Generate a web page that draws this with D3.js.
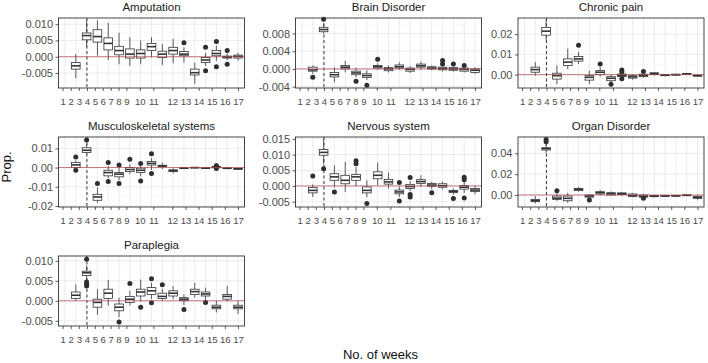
<!DOCTYPE html>
<html>
<head>
<meta charset="utf-8">
<script src="https://cdn.jsdelivr.net/npm/d3@7"></script>
<style>
  body { margin: 0; background: #fff; }
  svg { display: block; font-family: "Liberation Sans", Arial, sans-serif; }
</style>
</head>
<body>
<div id="chart"></div>
<script>
// week slots on the x axis (box positions) and their labels
const slots = d3.range(1, 18);
const weekLabels = d3.range(1, 18);
const markerWeek = 4;

// box stats per slot: [lowWhisker, q1, median, q3, highWhisker, outliers]
const amputation = [null,
  [-0.0066, -0.0038, -0.0028, -0.0018, 0.0008, []],
  [0.0030, 0.0052, 0.0065, 0.0073, 0.0112, []],
  [0.0003, 0.0045, 0.0062, 0.0083, 0.0112, []],
  [-0.0010, 0.0021, 0.0041, 0.0058, 0.0104, []],
  [-0.0023, 0.0006, 0.0019, 0.0032, 0.0074, []],
  [-0.0028, -0.0004, 0.0008, 0.0024, 0.0060, []],
  [-0.0023, -0.0004, 0.0010, 0.0021, 0.0050, []],
  [-0.0002, 0.0019, 0.0031, 0.0041, 0.0060, []],
  [-0.0025, -0.0002, 0.0008, 0.0017, 0.0039, []],
  [-0.0020, 0.0008, 0.0019, 0.0029, 0.0055, []],
  [-0.0018, 0.0003, 0.0008, 0.0016, 0.0029, [0.0043]],
  [-0.0083, -0.0056, -0.0049, -0.0038, -0.0018, []],
  [-0.0028, -0.0018, -0.0010, -0.0002, 0.0012, [0.0029, -0.0043]],
  [-0.0013, 0.0003, 0.0010, 0.0019, 0.0034, [0.0047, -0.0031]],
  [-0.0010, -0.0004, -0.0001, 0.0002, 0.0010, [0.0019, -0.0023]],
  [-0.0012, -0.0004, 0.0001, 0.0005, 0.0012, []]
];
const brainDisorder = [null,
  [-0.0011, -0.0005, -0.0002, 0.0004, 0.0008, [-0.0019]],
  [0.0080, 0.0084, 0.0089, 0.0094, 0.0103, [0.0112]],
  [-0.0030, -0.0018, -0.0013, -0.0008, 0.0004, []],
  [-0.0008, 0.0000, 0.0004, 0.0008, 0.0018, []],
  [-0.0019, -0.0013, -0.0009, -0.0005, 0.0003, [-0.0028]],
  [-0.0025, -0.0019, -0.0015, -0.0011, -0.0003, [-0.0037]],
  [-0.0002, 0.0002, 0.0005, 0.0008, 0.0013, [0.0022]],
  [-0.0008, -0.0004, 0.0000, 0.0003, 0.0008, []],
  [-0.0002, 0.0002, 0.0005, 0.0009, 0.0015, []],
  [-0.0009, -0.0005, -0.0001, 0.0002, 0.0006, []],
  [-0.0002, 0.0004, 0.0007, 0.0011, 0.0017, []],
  [-0.0003, 0.0000, 0.0002, 0.0005, 0.0008, []],
  [-0.0006, -0.0002, 0.0001, 0.0004, 0.0006, [0.0019, 0.0011]],
  [-0.0006, -0.0003, 0.0000, 0.0003, 0.0006, [0.0011]],
  [-0.0008, -0.0005, -0.0001, 0.0002, 0.0005, [0.0008]],
  [-0.0011, -0.0008, -0.0003, 0.0000, 0.0004, []]
];
const chronicPain = [null,
  [-0.0005, 0.0012, 0.0025, 0.0037, 0.0062, []],
  [0.0170, 0.0195, 0.0215, 0.0233, 0.0270, []],
  [-0.0047, -0.0022, -0.0005, 0.0007, 0.0045, []],
  [0.0028, 0.0045, 0.0062, 0.0078, 0.0128, []],
  [0.0053, 0.0067, 0.0078, 0.0090, 0.0112, [0.0145]],
  [-0.0047, -0.0027, -0.0013, -0.0005, 0.0020, []],
  [-0.0010, 0.0000, 0.0012, 0.0020, 0.0037, [0.0053]],
  [-0.0038, -0.0030, -0.0018, -0.0010, 0.0000, [-0.0047]],
  [-0.0015, -0.0010, -0.0004, 0.0003, 0.0008, [0.0023, 0.0013, -0.0020]],
  [-0.0025, -0.0017, -0.0011, -0.0005, 0.0002, []],
  [-0.0015, -0.0010, -0.0004, 0.0002, 0.0007, [0.0015]],
  [-0.0004, 0.0000, 0.0005, 0.0009, 0.0013, []],
  [-0.0008, -0.0005, -0.0003, 0.0000, 0.0003, []],
  [-0.0004, -0.0002, 0.0000, 0.0002, 0.0004, []],
  [-0.0001, 0.0002, 0.0004, 0.0006, 0.0009, []],
  [-0.0010, -0.0007, -0.0005, -0.0003, 0.0000, []]
];
const musculoskeletal = [null,
  [-0.0009, 0.0000, 0.0014, 0.0026, 0.0038, [0.0055, -0.0014]],
  [0.0069, 0.0078, 0.0090, 0.0103, 0.0124, [0.0144]],
  [-0.0183, -0.0170, -0.0153, -0.0139, -0.0104, [-0.0083]],
  [-0.0055, -0.0043, -0.0026, -0.0014, 0.0009, [0.0026, -0.0073]],
  [-0.0066, -0.0048, -0.0034, -0.0026, -0.0003, [0.0014, -0.0083]],
  [-0.0034, -0.0021, -0.0010, 0.0000, 0.0017, [0.0043]],
  [-0.0045, -0.0026, -0.0014, -0.0003, 0.0008, [0.0021, -0.0070]],
  [-0.0012, 0.0013, 0.0022, 0.0032, 0.0048, [0.0072, -0.0031]],
  [-0.0008, 0.0006, 0.0009, 0.0012, 0.0026, []],
  [-0.0030, -0.0020, -0.0016, -0.0012, -0.0004, []],
  [-0.0008, -0.0005, -0.0003, -0.0001, 0.0002, []],
  [-0.0004, -0.0002, 0.0000, 0.0001, 0.0003, []],
  [-0.0007, -0.0005, -0.0003, -0.0001, 0.0002, []],
  [-0.0003, -0.0001, 0.0003, 0.0005, 0.0007, [0.0010, 0.0008, -0.0005]],
  [-0.0007, -0.0005, -0.0004, -0.0002, 0.0000, []],
  [-0.0010, -0.0008, -0.0007, -0.0005, -0.0003, []]
];
const nervousSystem = [null,
  [-0.0035, -0.0022, -0.0014, -0.0005, 0.0005, [0.0032]],
  [0.0070, 0.0098, 0.0107, 0.0116, 0.0149, [0.0055]],
  [-0.0005, 0.0018, 0.0029, 0.0039, 0.0066, [-0.0019]],
  [-0.0019, 0.0007, 0.0018, 0.0034, 0.0077, []],
  [-0.0001, 0.0018, 0.0029, 0.0037, 0.0060, [0.0080, 0.0071]],
  [-0.0036, -0.0022, -0.0014, -0.0003, 0.0018, [-0.0056]],
  [0.0002, 0.0023, 0.0034, 0.0045, 0.0074, []],
  [-0.0008, 0.0006, 0.0013, 0.0021, 0.0043, []],
  [-0.0035, -0.0025, -0.0019, -0.0013, -0.0002, [0.0011, -0.0048]],
  [-0.0016, -0.0008, -0.0002, 0.0005, 0.0015, [0.0027, -0.0027, -0.0035]],
  [-0.0003, 0.0008, 0.0014, 0.0020, 0.0034, []],
  [-0.0011, -0.0001, 0.0003, 0.0008, 0.0013, [-0.0022]],
  [-0.0011, -0.0004, 0.0001, 0.0007, 0.0014, []],
  [-0.0028, -0.0021, -0.0017, -0.0014, -0.0008, [-0.0040]],
  [-0.0022, -0.0010, -0.0004, 0.0001, 0.0012, [0.0028, 0.0020, -0.0038]],
  [-0.0026, -0.0018, -0.0013, -0.0008, 0.0001, []]
];
const organDisorder = [null,
  [-0.0080, -0.0064, -0.0055, -0.0042, -0.0010, []],
  [0.0405, 0.0432, 0.0445, 0.0454, 0.0490, [0.0534, 0.0512]],
  [-0.0055, -0.0042, -0.0030, -0.0010, 0.0016, [0.0042]],
  [-0.0074, -0.0055, -0.0032, -0.0010, 0.0020, []],
  [0.0032, 0.0042, 0.0055, 0.0064, 0.0078, []],
  [-0.0028, -0.0020, -0.0010, 0.0000, 0.0008, [-0.0048]],
  [-0.0003, 0.0010, 0.0022, 0.0032, 0.0048, []],
  [-0.0008, 0.0000, 0.0013, 0.0022, 0.0035, []],
  [-0.0004, 0.0004, 0.0013, 0.0020, 0.0028, []],
  [-0.0022, -0.0014, -0.0005, 0.0010, 0.0020, []],
  [-0.0026, -0.0020, -0.0012, 0.0000, 0.0010, [-0.0032]],
  [-0.0022, -0.0016, -0.0011, -0.0006, 0.0000, []],
  [-0.0016, -0.0012, -0.0009, -0.0006, -0.0003, []],
  [-0.0014, -0.0010, -0.0008, -0.0005, -0.0002, []],
  [-0.0010, -0.0006, -0.0003, 0.0000, 0.0004, []],
  [-0.0045, -0.0032, -0.0022, -0.0012, -0.0002, []]
];
const paraplegia = [null,
  [0.0000, 0.0006, 0.0014, 0.0022, 0.0041, []],
  [0.0052, 0.0063, 0.0070, 0.0074, 0.0088, [0.0104, 0.0047, 0.0041, 0.0037]],
  [-0.0035, -0.0016, -0.0004, 0.0004, 0.0029, []],
  [-0.0012, 0.0006, 0.0019, 0.0029, 0.0052, []],
  [-0.0041, -0.0025, -0.0016, -0.0008, 0.0008, [-0.0053]],
  [-0.0012, -0.0004, 0.0004, 0.0011, 0.0025, [0.0043]],
  [-0.0002, 0.0012, 0.0022, 0.0029, 0.0053, [-0.0016]],
  [0.0004, 0.0016, 0.0025, 0.0033, 0.0045, [0.0055, -0.0005]],
  [0.0000, 0.0006, 0.0011, 0.0019, 0.0030, [0.0040]],
  [0.0004, 0.0012, 0.0019, 0.0025, 0.0037, []],
  [-0.0011, 0.0000, 0.0004, 0.0008, 0.0016, [-0.0022]],
  [0.0008, 0.0016, 0.0023, 0.0029, 0.0045, []],
  [0.0001, 0.0012, 0.0017, 0.0022, 0.0033, [-0.0004]],
  [-0.0029, -0.0020, -0.0016, -0.0011, 0.0000, []],
  [-0.0002, 0.0004, 0.0011, 0.0016, 0.0037, []],
  [-0.0033, -0.0020, -0.0016, -0.0011, 0.0000, []]
];

const panelTitles = ['Amputation', 'Brain Disorder', 'Chronic pain',
  'Musculoskeletal systems', 'Nervous system', 'Organ Disorder', 'Paraplegia'];
const panelData = [amputation, brainDisorder, chronicPain,
  musculoskeletal, nervousSystem, organDisorder, paraplegia];
const yDomains = [[-0.0096, 0.0119], [-0.0043, 0.0115], [-0.0066, 0.028],
  [-0.0205, 0.0159], [-0.0067, 0.0156], [-0.0115, 0.0557], [-0.0063, 0.0112]];
const yTicks = [[-0.005, 0, 0.005, 0.01], [-0.004, 0, 0.004, 0.008], [0, 0.01, 0.02],
  [-0.02, -0.01, 0, 0.01], [-0.005, 0, 0.005, 0.01, 0.015], [0, 0.02, 0.04],
  [-0.005, 0, 0.005, 0.01]];
const yFormats = ['.3f', '.3f', '.2f', '.2f', '.3f', '.2f', '.3f'];

// --- layout ---
const width = 708, height = 363;
const colX = [58.5, 295.5, 518];
const rowY = [18, 137, 256];
const pw = 186, ph = 70;
// week labels sit where the source put them (not evenly spaced)
const labelKnots = [1, 4, 9, 10, 11, 12, 17];
const labelFrac = [0.022, 0.153, 0.365, 0.437, 0.51, 0.612, 0.965];

const svg = d3.select('#chart').append('svg')
  .attr('width', width).attr('height', height);

panelData.forEach((rows, i) => {
  const x0 = colX[i % 3], y0 = rowY[Math.floor(i / 3)];
  const g = svg.append('g').attr('transform', `translate(${x0},${y0})`);
  const y = d3.scaleLinear().domain(yDomains[i]).range([ph, 0]);
  const xBox = d3.scalePoint().domain(slots).range([0, pw]).padding(0.6);
  const xLab = d3.scaleLinear().domain(labelKnots).range(labelFrac.map(f => f * pw));
  const bw = xBox.step() * 0.8;
  const fmt = d3.format(yFormats[i]);

  // grid
  const major = yTicks[i];
  const stepT = major[1] - major[0];
  const minor = d3.range(major[0] - stepT / 2, yDomains[i][1], stepT)
    .filter(v => v > yDomains[i][0] && v < yDomains[i][1]);
  g.append('g').selectAll('line').data(minor).join('line')
    .attr('x1', 0).attr('x2', pw).attr('y1', d => y(d)).attr('y2', d => y(d))
    .attr('stroke', '#f2f2f2').attr('stroke-width', 0.5);
  g.append('g').selectAll('line').data(major).join('line')
    .attr('x1', 0).attr('x2', pw).attr('y1', d => y(d)).attr('y2', d => y(d))
    .attr('stroke', '#e6e6e6').attr('stroke-width', 0.8);
  g.append('g').selectAll('line').data(slots).join('line')
    .attr('x1', d => xBox(d)).attr('x2', d => xBox(d)).attr('y1', 0).attr('y2', ph)
    .attr('stroke', '#e6e6e6').attr('stroke-width', 0.8);

  // dashed marker line
  g.append('line')
    .attr('x1', xLab(markerWeek)).attr('x2', xLab(markerWeek))
    .attr('y1', 0).attr('y2', ph)
    .attr('stroke', '#222').attr('stroke-width', 0.9)
    .attr('stroke-dasharray', '3,2.5');

  // boxes
  const boxes = g.append('g').selectAll('g')
    .data(rows.map((r, k) => ({ slot: slots[k], r })).filter(d => d.r))
    .join('g')
    .attr('transform', d => `translate(${xBox(d.slot)},0)`);
  boxes.append('line')
    .attr('y1', d => y(d.r[0])).attr('y2', d => y(d.r[1]))
    .attr('stroke', '#333').attr('stroke-width', 0.8);
  boxes.append('line')
    .attr('y1', d => y(d.r[3])).attr('y2', d => y(d.r[4]))
    .attr('stroke', '#333').attr('stroke-width', 0.8);
  boxes.append('rect')
    .attr('x', -bw / 2).attr('width', bw)
    .attr('y', d => y(d.r[3])).attr('height', d => Math.max(0.5, y(d.r[1]) - y(d.r[3])))
    .attr('fill', '#fff').attr('stroke', '#333').attr('stroke-width', 0.8);
  boxes.append('line')
    .attr('x1', -bw / 2).attr('x2', bw / 2)
    .attr('y1', d => y(d.r[2])).attr('y2', d => y(d.r[2]))
    .attr('stroke', '#333').attr('stroke-width', 1.6);
  boxes.selectAll('circle').data(d => d.r[5]).join('circle')
    .attr('cy', d => y(d)).attr('r', 2.5).attr('fill', '#2e2e2e');

  // zero reference
  g.append('line')
    .attr('x1', 0).attr('x2', pw).attr('y1', y(0)).attr('y2', y(0))
    .attr('stroke', '#b5474f').attr('stroke-width', 0.9).attr('opacity', 0.8);

  // panel border
  g.append('rect').attr('width', pw).attr('height', ph)
    .attr('fill', 'none').attr('stroke', '#333').attr('stroke-width', 0.9);

  // axes
  const ya = g.append('g')
    .call(d3.axisLeft(y).tickValues(major).tickSize(3).tickPadding(2.5)
      .tickFormat(d => fmt(d).replace('\u2212', '-')));
  const xa = g.append('g').attr('transform', `translate(0,${ph})`)
    .call(d3.axisBottom(xLab).tickValues(weekLabels).tickSize(3).tickPadding(7)
      .tickFormat(d => d));
  [ya, xa].forEach(a => {
    a.select('.domain').remove();
    a.selectAll('line').attr('stroke', '#333').attr('stroke-width', 0.8);
    a.selectAll('text').attr('fill', '#4d4d4d')
      .style('font-family', '"Liberation Sans", Arial, sans-serif');
  });
  ya.selectAll('text').style('font-size', '11px');
  xa.selectAll('text').style('font-size', '9.6px');

  // title
  g.append('text')
    .attr('x', pw / 2).attr('y', -7)
    .attr('text-anchor', 'middle')
    .attr('fill', '#1a1a1a').style('font-size', '11.5px')
    .text(panelTitles[i]);
});

// axis titles
svg.append('text')
  .attr('transform', 'translate(11,167) rotate(-90)')
  .attr('text-anchor', 'middle').style('font-size', '13px').attr('fill', '#111')
  .text('Prop.');
svg.append('text')
  .attr('x', 380.5).attr('y', 359)
  .attr('text-anchor', 'middle').style('font-size', '13px').attr('fill', '#111')
  .text('No. of weeks');
</script>
</body>
</html>
